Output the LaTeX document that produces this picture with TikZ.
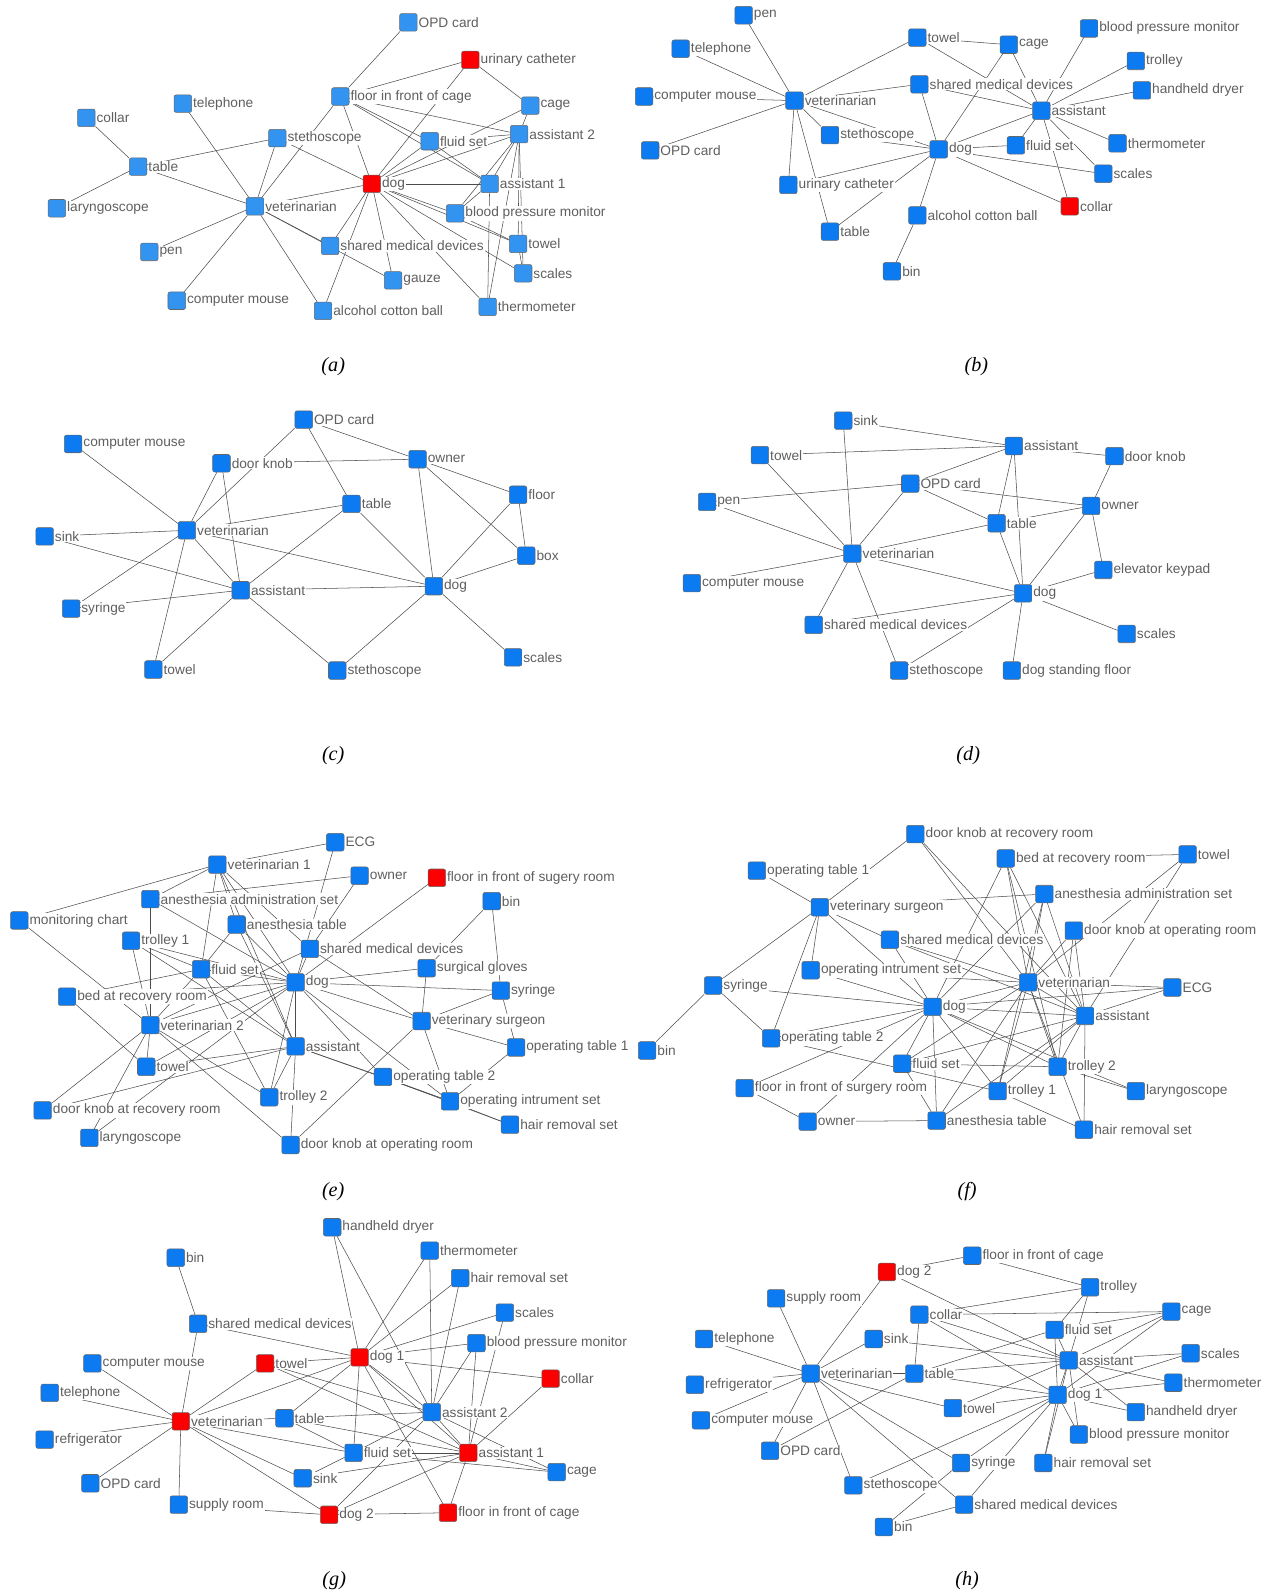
\documentclass[tikz,border=0pt]{standalone}
\usepackage{fontspec}
\newfontfamily\lblfont{Liberation Sans}
\newfontfamily\capfont{Liberation Serif}
\usetikzlibrary{backgrounds}
\definecolor{devblue}{RGB}{12,122,240}
\definecolor{devblueA}{RGB}{50,148,240}
\definecolor{devred}{RGB}{250,0,0}
\definecolor{lblgray}{RGB}{95,95,95}
\definecolor{linegray}{RGB}{75,75,75}

\begin{document}
\begin{tikzpicture}[x=0.02032cm, y=-0.02032cm,
  dev/.style={draw=black!60, line width=0.3pt, minimum size=10pt, inner sep=0pt,
    rounded corners=1.2pt, label={[lbl]right:#1}},
  lbl/.style={font=\lblfont\fontsize{7.8}{9}\selectfont, text=lblgray, fill=white,
    inner sep=0.5pt},
  link/.style={draw=linegray, line width=0.3pt},
  captxt/.style={font=\capfont\itshape\fontsize{11.5}{13}\selectfont}]
  \useasboundingbox (0,0) rectangle (1259,1568);

  %% (a)
  \foreach \n/\x/\y/\t/\c in {opd/402/22/OPD card/devblueA, cath/463/59/urinary catheter/devred,
      tel/180/102/telephone/devblueA, collar/85/116/collar/devblueA,
      floor/335/95/floor in front of cage/devblueA, cage/522/104/cage/devblueA,
      steth/273/136/stethoscope/devblueA, fluid/423/139/fluid set/devblueA,
      asst2/511/132/assistant 2/devblueA, table/136/164/table/devblueA,
      dog/366/181/dog/devred, asst1/482/181/assistant 1/devblueA,
      laryn/56/205/laryngoscope/devblueA, vet/251/203/veterinarian/devblueA,
      bpm/448/210/blood pressure monitor/devblueA, smd/325/242/shared medical devices/devblueA,
      towel/510/240/towel/devblueA, pen/147/248/pen/devblueA, gauze/387/276/gauze/devblueA,
      scales/515/269/scales/devblueA, mouse/174/296/computer mouse/devblueA,
      cotton/318/306/alcohol cotton ball/devblueA, thermo/480/302/thermometer/devblueA}
    \node[dev=\t, fill=\c] (a-\n) at (\x,\y) {};
  \begin{scope}[on background layer]
    \foreach \u/\v in {opd/floor, cath/floor, cath/dog, cath/cage, tel/vet, collar/table,
        table/laryn, table/steth, table/vet, floor/vet, floor/dog, floor/fluid, floor/asst1,
        floor/asst2, steth/vet, steth/dog, dog/vet, dog/fluid, dog/asst2, dog/cage, dog/asst1,
        dog/bpm, dog/towel, dog/scales, dog/thermo, dog/smd, dog/gauze, dog/cotton, vet/smd,
        vet/gauze, vet/pen, vet/mouse, vet/cotton, fluid/asst1, fluid/asst2, cage/asst2,
        asst2/asst1, asst2/bpm, asst2/towel, asst2/thermo, asst2/scales, asst1/bpm,
        asst1/thermo, bpm/towel, towel/scales}
      \draw[link] (a-\u) -- (a-\v);
  \end{scope}
  \node[captxt] (cap-a) at (328,361) {(a)};

  %% (b)
  \foreach \n/\x/\y/\t/\c in {pen/732/15/pen/devblue, tel/670/48/telephone/devblue,
      mouse/634/95/computer mouse/devblue, vet/782/99/veterinarian/devblue,
      opd/640/148/OPD card/devblue, towel/903/37/towel/devblue, cage/993/44/cage/devblue,
      bpm/1072/28/blood pressure monitor/devblue, trolley/1118/60/trolley/devblue,
      dryer/1124/89/handheld dryer/devblue, smd/905/83/shared medical devices/devblue,
      asst/1025/109/assistant/devblue, steth/817/133/stethoscope/devblue,
      dog/924/147/dog/devblue, fluid/1000/143/fluid set/devblue,
      thermo/1100/141/thermometer/devblue, scales/1086/171/scales/devblue,
      cath/776/182/urinary catheter/devblue, collar/1053/203/collar/devred,
      table/817/228/table/devblue, cotton/903/212/alcohol cotton ball/devblue,
      bin/878/267/bin/devblue}
    \node[dev=\t, fill=\c] (b-\n) at (\x,\y) {};
  \begin{scope}[on background layer]
    \foreach \u/\v in {pen/vet, tel/vet, mouse/vet, opd/vet, vet/towel, vet/smd, vet/steth,
        vet/dog, vet/cath, vet/table, towel/cage, towel/asst, cage/dog, cage/asst, bpm/asst,
        trolley/asst, dryer/asst, smd/asst, smd/dog, asst/dog, asst/fluid, asst/thermo,
        asst/scales, asst/collar, steth/dog, dog/fluid, dog/scales, dog/collar, dog/cath,
        dog/table, dog/cotton, cotton/bin}
      \draw[link] (b-\u) -- (b-\v);
  \end{scope}
  \node[captxt] (cap-b) at (961,361) {(b)};

  %% (c)
  \foreach \n/\x/\y/\t in {opd/299/413/OPD card, mouse/72/437/computer mouse,
      knob/218/456/door knob, owner/411/452/owner, floor/510/487/floor, table/346/496/table,
      vet/184/522/veterinarian, sink/44/528/sink, box/518/547/box, asst/237/581/assistant,
      dog/427/577/dog, syringe/70/599/syringe, towel/151/659/towel,
      steth/332/660/stethoscope, scales/505/647/scales}
    \node[dev=\t, fill=devblue] (c-\n) at (\x,\y) {};
  \begin{scope}[on background layer]
    \foreach \u/\v in {opd/owner, opd/table, opd/vet, mouse/vet, knob/owner, knob/vet,
        knob/asst, owner/floor, owner/dog, owner/box, floor/box, floor/dog, box/dog,
        table/vet, table/asst, table/dog, vet/sink, vet/syringe, vet/towel, vet/asst, vet/dog,
        sink/asst, asst/syringe, asst/towel, asst/dog, asst/steth, dog/steth, dog/scales}
      \draw[link] (c-\u) -- (c-\v);
  \end{scope}
  \node[captxt] (cap-c) at (328,744) {(c)};

  %% (d)
  \foreach \n/\x/\y/\t in {sink/830/414/sink, asst/998/439/assistant, towel/748/448/towel,
      knob/1097/449/door knob, opd/896/476/OPD card, pen/696/494/pen, owner/1074/498/owner,
      table/981/515/table, vet/839/545/veterinarian, mouse/681/574/computer mouse,
      keypad/1086/561/elevator keypad, dog/1007/584/dog, smd/801/615/shared medical devices,
      scales/1109/624/scales, steth/885/660/stethoscope, floor/996/660/dog standing floor}
    \node[dev=\t, fill=devblue] (d-\n) at (\x,\y) {};
  \begin{scope}[on background layer]
    \foreach \u/\v in {sink/asst, sink/vet, towel/asst, towel/vet, asst/knob, asst/opd,
        asst/table, asst/dog, opd/pen, opd/vet, opd/table, opd/owner, pen/vet, owner/knob,
        owner/table, owner/dog, owner/keypad, table/vet, table/dog, vet/mouse, vet/dog,
        vet/smd, vet/steth, dog/keypad, dog/smd, dog/steth, dog/floor, dog/scales}
      \draw[link] (d-\u) -- (d-\v);
  \end{scope}
  \node[captxt] (cap-d) at (953,744) {(d)};

  %% (e)
  \foreach \n/\x/\y/\t/\c in {ecg/330/829/ECG/devblue, vet1/214/851/veterinarian 1/devblue,
      owner/354/862/owner/devblue, floor/430/864/floor in front of sugery room/devred,
      aas/148/885/anesthesia administration set/devblue, bin/484/887/bin/devblue,
      chart/19/906/monitoring chart/devblue, atable/233/910/anesthesia table/devblue,
      trolley1/129/926/trolley 1/devblue, smd/305/934/shared medical devices/devblue,
      fluid/198/954/fluid set/devblue, gloves/420/953/surgical gloves/devblue,
      dog/291/967/dog/devblue, syringe/493/975/syringe/devblue,
      bed/66/981/bed at recovery room/devblue, surgeon/415/1005/veterinary surgeon/devblue,
      vet2/148/1009/veterinarian 2/devblue, asst/291/1030/assistant/devblue,
      op1/508/1031/operating table 1/devblue, towel/144/1050/towel/devblue,
      op2/377/1060/operating table 2/devblue, trolley2/265/1080/trolley 2/devblue,
      instr/443/1084/operating intrument set/devblue,
      knobrec/42/1093/door knob at recovery room/devblue,
      hair/502/1107/hair removal set/devblue, laryn/88/1120/laryngoscope/devblue,
      knobop/286/1127/door knob at operating room/devblue}
    \node[dev=\t, fill=\c] (e-\n) at (\x,\y) {};
  \begin{scope}[on background layer]
    \foreach \u/\v in {ecg/vet1, ecg/dog, owner/smd, owner/aas, floor/dog, vet1/chart,
        vet1/aas, vet1/fluid, vet1/atable, vet1/dog, vet1/asst, vet1/smd, aas/vet2, aas/dog,
        atable/fluid, atable/dog, atable/asst, chart/vet2, bed/towel, trolley1/fluid,
        trolley1/dog, trolley1/asst, trolley1/vet2, smd/dog, smd/surgeon, smd/vet2,
        fluid/dog, fluid/vet2, fluid/asst, fluid/trolley2, fluid/bed, bin/gloves,
        bin/syringe, gloves/dog, gloves/surgeon, dog/syringe, dog/bed, dog/vet2, dog/asst,
        dog/trolley2, dog/surgeon, dog/op2, dog/instr, dog/towel, syringe/surgeon,
        syringe/op1, surgeon/op1, surgeon/instr, surgeon/knobop, vet2/towel, vet2/knobrec,
        vet2/laryn, vet2/trolley2, vet2/knobop, towel/asst, asst/op2, asst/trolley2,
        asst/knobop, asst/knobrec, asst/instr, op2/instr, op2/hair, op1/instr, instr/hair,
        laryn/dog}
      \draw[link] (e-\u) -- (e-\v);
  \end{scope}
  \node[captxt] (cap-e) at (328,1173) {(e)};

  %% (f)
  \foreach \n/\x/\y/\t in {knobrec/901/821/door knob at recovery room, towel/1169/841/towel,
      bed/990/845/bed at recovery room, op1/745/857/operating table 1,
      aas/1028/880/anesthesia administration set, surgeon/807/893/veterinary surgeon,
      knobop/1057/916/door knob at operating room, smd/876/925/shared medical devices,
      instr/798/955/operating intrument set, syringe/702/970/syringe,
      vet/1012/967/veterinarian, ecg/1154/972/ECG, dog/918/991/dog,
      asst/1068/1000/assistant, op2/759/1022/operating table 2, bin/637/1034/bin,
      fluid/888/1047/fluid set, trolley2/1041/1050/trolley 2,
      floor/733/1071/floor in front of surgery room, trolley1/982/1074/trolley 1,
      laryn/1118/1074/laryngoscope, owner/795/1104/owner, atable/922/1103/anesthesia table,
      hair/1067/1112/hair removal set}
    \node[dev=\t, fill=devblue] (f-\n) at (\x,\y) {};
  \begin{scope}[on background layer]
    \foreach \u/\v in {knobrec/surgeon, knobrec/vet, knobrec/asst, towel/bed, towel/asst,
        towel/vet, bed/dog, bed/vet, bed/asst, bed/trolley2, op1/surgeon, surgeon/aas,
        surgeon/smd, surgeon/syringe, surgeon/op2, surgeon/instr, surgeon/dog, aas/vet,
        aas/dog, aas/asst, aas/trolley1, knobop/vet, knobop/asst, knobop/trolley2, smd/dog,
        smd/vet, smd/asst, instr/dog, instr/vet, syringe/dog, syringe/bin, syringe/op2,
        vet/dog, vet/ecg, vet/asst, vet/fluid, vet/trolley1, vet/trolley2, vet/atable,
        vet/hair, op2/dog, ecg/asst, ecg/dog, dog/asst, dog/fluid, dog/trolley2,
        dog/trolley1, dog/atable, dog/owner, dog/floor, dog/laryn, asst/fluid,
        asst/trolley2, asst/trolley1, asst/atable, asst/hair, trolley2/laryn, op2/trolley1,
        fluid/trolley2, fluid/atable, trolley1/hair, floor/owner, owner/atable}
      \draw[link] (f-\u) -- (f-\v);
  \end{scope}
  \node[captxt] (cap-f) at (952,1173) {(f)};

  %% (g)
  \foreach \n/\x/\y/\t/\c in {dryer/327/1208/handheld dryer/devblue,
      thermo/423/1231/thermometer/devblue, bin/173/1238/bin/devblue,
      hair/453/1258/hair removal set/devblue, scales/497/1292/scales/devblue,
      smd/195/1303/shared medical devices/devblue, bpm/469/1322/blood pressure monitor/devblue,
      dog1/354/1336/dog 1/devred, towel/261/1342/towel/devred,
      mouse/91/1342/computer mouse/devblue, collar/542/1357/collar/devred,
      tel/49/1371/telephone/devblue, asst2/425/1390/assistant 2/devblue,
      vet/178/1399/veterinarian/devred, table/280/1396/table/devblue,
      fridge/44/1417/refrigerator/devblue, fluid/348/1430/fluid set/devblue,
      asst1/461/1430/assistant 1/devred, cage/548/1449/cage/devblue,
      sink/298/1455/sink/devblue, opd/89/1460/OPD card/devblue,
      supply/176/1481/supply room/devblue, dog2/324/1491/dog 2/devred,
      floor/441/1489/floor in front of cage/devred}
    \node[dev=\t, fill=\c] (g-\n) at (\x,\y) {};
  \begin{scope}[on background layer]
    \foreach \u/\v in {dryer/dog1, dryer/asst2, thermo/dog1, thermo/asst2, hair/dog1,
        hair/asst2, bin/smd, smd/vet, smd/dog1, scales/dog1, scales/asst1, bpm/dog1,
        bpm/asst2, bpm/asst1, dog1/towel, dog1/collar, dog1/vet, dog1/table, dog1/fluid,
        dog1/asst2, dog1/asst1, dog1/floor, towel/asst2, towel/asst1, mouse/vet, tel/vet,
        fridge/vet, opd/vet, vet/towel, vet/table, vet/fluid, vet/sink, vet/dog2,
        vet/supply, table/asst2, table/fluid, table/asst1, fluid/cage, fluid/asst1,
        fluid/asst2, sink/asst1, sink/fluid, dog2/asst1, dog2/asst2, dog2/floor,
        dog2/supply, asst2/asst1, asst2/cage, asst1/cage, asst1/collar, asst1/floor}
      \draw[link] (g-\u) -- (g-\v);
  \end{scope}
  \node[captxt] (cap-g) at (329,1556) {(g)};

  %% (h)
  \foreach \n/\x/\y/\t/\c in {floor/957/1236/floor in front of cage/devblue,
      dog2/873/1252/dog 2/devred, trolley/1073/1267/trolley/devblue,
      supply/764/1278/supply room/devblue, collar/905/1294/collar/devblue,
      cage/1153/1291/cage/devblue, fluid/1038/1309/fluid set/devblue,
      sink/860/1318/sink/devblue, tel/693/1318/telephone/devblue,
      scales/1172/1332/scales/devblue, asst/1052/1339/assistant/devblue,
      vet/798/1352/veterinarian/devblue, table/900/1352/table/devblue,
      fridge/684/1363/refrigerator/devblue, thermo/1155/1361/thermometer/devblue,
      dog1/1041/1373/dog 1/devblue, towel/938/1386/towel/devblue,
      dryer/1118/1390/handheld dryer/devblue, mouse/690/1398/computer mouse/devblue,
      bpm/1062/1412/blood pressure monitor/devblue, opd/758/1428/OPD card/devblue,
      syringe/946/1440/syringe/devblue, hair/1027/1440/hair removal set/devblue,
      steth/840/1462/stethoscope/devblue, smd/949/1481/shared medical devices/devblue,
      bin/870/1503/bin/devblue}
    \node[dev=\t, fill=\c] (h-\n) at (\x,\y) {};
  \begin{scope}[on background layer]
    \foreach \u/\v in {floor/dog2, floor/trolley, dog2/vet, dog2/asst, supply/vet,
        collar/trolley, collar/cage, collar/table, collar/asst, collar/dog1, trolley/fluid,
        trolley/asst, cage/fluid, cage/asst, cage/dog1, fluid/asst, fluid/dog1, fluid/table,
        sink/vet, sink/asst, tel/vet, scales/asst, scales/dog1, asst/table, asst/dog1,
        asst/thermo, asst/towel, asst/dryer, asst/hair, asst/bpm, vet/table, vet/fridge,
        vet/mouse, vet/opd, vet/towel, vet/syringe, vet/smd, vet/steth, table/opd,
        table/dog1, dog1/thermo, dog1/dryer, dog1/bpm, dog1/hair, dog1/towel, dog1/syringe,
        dog1/smd, dog1/steth, bin/syringe, bin/smd}
      \draw[link] (h-\u) -- (h-\v);
  \end{scope}
  \node[captxt] (cap-h) at (952,1556) {(h)};
\end{tikzpicture}
\end{document}
